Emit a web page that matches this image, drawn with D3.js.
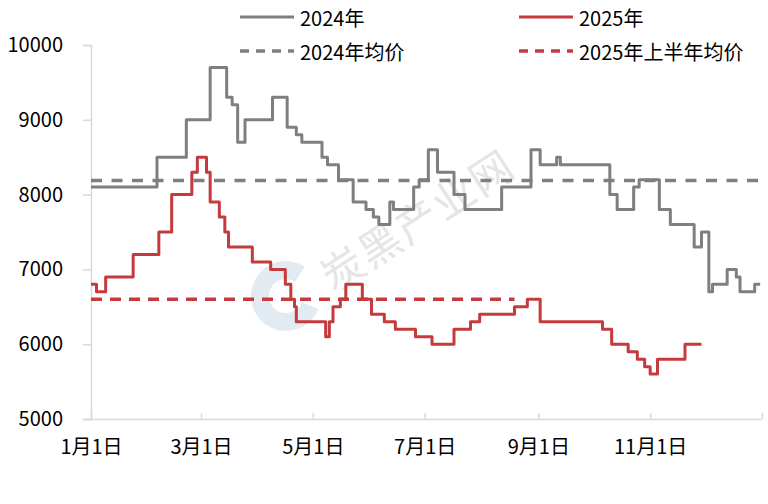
<!DOCTYPE html>
<html><head><meta charset="utf-8">
<script src="https://cdn.jsdelivr.net/npm/d3@7"></script>
<style>
html,body{margin:0;padding:0;background:#fff;}
svg{display:block;font-family:"Noto Sans CJK SC","Noto Sans",sans-serif;}
</style></head>
<body><svg id="c" width="768" height="504"></svg>
<script>
// ---- data ----
const dates2024 = ["01-01","02-06","02-22","03-06","03-15","03-18","03-21","03-25","04-09","04-17","04-22","04-25","05-06","05-09","05-15","05-23","05-30","06-03","06-06","06-12","06-14","06-25","06-28","07-03","07-08","07-17","07-23","08-12","08-28","09-02","09-11","09-13","10-10","10-14","10-23","10-26","11-06","11-12","11-25","11-29","12-03","12-05","12-13","12-18","12-20","12-28","12-31"];
const values2024 = [8100,8500,9000,9700,9300,9200,8700,9000,9300,8900,8800,8700,8500,8400,8200,7900,7800,7700,7600,7900,7800,8100,8200,8600,8300,8000,7800,8100,8600,8400,8500,8400,8000,7800,8100,8200,7800,7600,7300,7500,6700,6800,7000,6900,6700,6800,6800];
const dates2025 = ["01-01","01-04","01-09","01-24","02-07","02-14","02-25","02-28","03-04","03-06","03-11","03-14","03-16","03-29","04-08","04-16","04-19","04-21","04-22","05-08","05-10","05-12","05-16","05-19","05-28","06-02","06-09","06-15","06-26","07-05","07-17","07-26","07-31","08-19","08-26","09-02","10-06","10-11","10-20","10-25","10-29","11-01","11-05","11-20","11-29"];
const values2025 = [6800,6700,6900,7200,7500,8000,8300,8500,8300,7900,7700,7500,7300,7100,7000,6800,6600,6500,6300,6100,6300,6500,6600,6800,6600,6400,6300,6200,6100,6000,6200,6300,6400,6500,6600,6300,6200,6000,5900,5800,5700,5600,5800,6000,6000];
const avg2024 = {start:"01-01", end:"12-31", value:8190};
const avg2025H1 = {start:"01-01", end:"08-19", value:6600};
const yTicks = [5000,6000,7000,8000,9000,10000];
const xTickDates = ["01-01","03-01","05-01","07-01","09-01","11-01"];
const xTickLabels = ["1月1日","3月1日","5月1日","7月1日","9月1日","11月1日"];
const legendNames = ["2024年","2025年","2024年均价","2025年上半年均价"];

// ---- setup ----
const parse = s => d3.timeParse("%Y-%m-%d")("2024-" + s);
const svg = d3.select("#c");
const L = 91, R = 762, T = 45, B = 419;
const x = d3.scaleTime().domain([parse("01-01"), new Date(2025,0,1)]).range([L, R]);
const y = d3.scaleLinear().domain([5000, 10000]).range([B, T]);
const GRAY = "#7f7f7f", RED = "#c53a3d", AXIS = "#d9d9d9";
const FS = 20;

// watermark
const wm = svg.append("g").attr("pointer-events","none");
wm.append("path")
  .attr("transform","translate(286,296)")
  .attr("d", d3.arc().innerRadius(17).outerRadius(35).startAngle(Math.PI*0.62).endAngle(Math.PI*2.18)())
  .attr("fill","#dce7ee").attr("opacity",0.85);
wm.append("text").attr("transform","translate(416,218) rotate(-33)")
  .attr("text-anchor","middle").attr("dominant-baseline","central")
  .attr("font-size",42).attr("fill","#e3e3e3").attr("opacity",0.9)
  .attr("letter-spacing","2px")
  .text("炭黑产业网");

// axes
const yAxis = d3.axisLeft(y).tickValues(yTicks).tickSize(8).tickPadding(20).tickFormat(d3.format("d"));
const gy = svg.append("g").attr("transform",`translate(${L},0)`).call(yAxis);
gy.select(".domain").attr("stroke",AXIS).attr("stroke-width",1.5);
gy.selectAll(".tick line").attr("stroke",AXIS).attr("stroke-width",1.5);
gy.selectAll(".tick text").attr("font-size",FS).attr("fill","#000").attr("font-family",'"Noto Sans CJK SC",sans-serif');

const xTickVals = xTickDates.map(parse).concat([new Date(2025,0,1)]);
const xAxis = d3.axisBottom(x).tickValues(xTickVals).tickSizeInner(-6).tickSizeOuter(0).tickPadding(21)
  .tickFormat((d,i) => i < xTickLabels.length ? xTickLabels[i] : "");
const gx = svg.append("g").attr("transform",`translate(0,${B})`).call(xAxis);
gx.select(".domain").attr("stroke",AXIS).attr("stroke-width",1.5).attr("d",`M${L-8},0.5H${R}`);
gx.selectAll(".tick line").attr("stroke",AXIS).attr("stroke-width",1.5);
gx.selectAll(".tick text").attr("font-size",FS).attr("fill","#000").attr("font-family",'"Noto Sans CJK SC",sans-serif');

// lines
const line = d3.line().x(d => x(d[0])).y(d => y(d[1])).curve(d3.curveStepAfter);
const s2024 = dates2024.map((d,i) => [parse(d), values2024[i]]);
const s2025 = dates2025.map((d,i) => [parse(d), values2025[i]]);

svg.append("line").attr("x1",x(parse(avg2024.start))).attr("x2",x(parse(avg2024.end)))
  .attr("y1",y(avg2024.value)).attr("y2",y(avg2024.value))
  .attr("stroke",GRAY).attr("stroke-width",3.5).attr("stroke-dasharray","11,9.5");
svg.append("line").attr("x1",x(parse(avg2025H1.start))).attr("x2",x(parse(avg2025H1.end)))
  .attr("y1",y(avg2025H1.value)).attr("y2",y(avg2025H1.value))
  .attr("stroke",RED).attr("stroke-width",3.5).attr("stroke-dasharray","11,8");

svg.append("path").datum(s2024).attr("d",line).attr("fill","none")
  .attr("stroke",GRAY).attr("stroke-width",3).attr("stroke-linejoin","round");
svg.append("path").datum(s2025).attr("d",line).attr("fill","none")
  .attr("stroke",RED).attr("stroke-width",3).attr("stroke-linejoin","round");

// legend
const leg = [
  {name:legendNames[0], color:GRAY, dash:null, x:240, y:17},
  {name:legendNames[1], color:RED, dash:null, x:519, y:17},
  {name:legendNames[2], color:GRAY, dash:"9,7", x:240, y:51},
  {name:legendNames[3], color:RED, dash:"9,7", x:519, y:51}
];
const lg = svg.append("g").selectAll("g").data(leg).join("g").attr("transform",d=>`translate(${d.x},${d.y})`);
lg.append("line").attr("x1",0).attr("x2",54).attr("y1",0).attr("y2",0)
  .attr("stroke",d=>d.color).attr("stroke-width",d=>d.dash?3.5:3).attr("stroke-dasharray",d=>d.dash);
lg.append("text").attr("x",60).attr("y",0).attr("dominant-baseline","central")
  .attr("font-size",FS).attr("fill","#000").text(d=>d.name);
</script></body></html>
